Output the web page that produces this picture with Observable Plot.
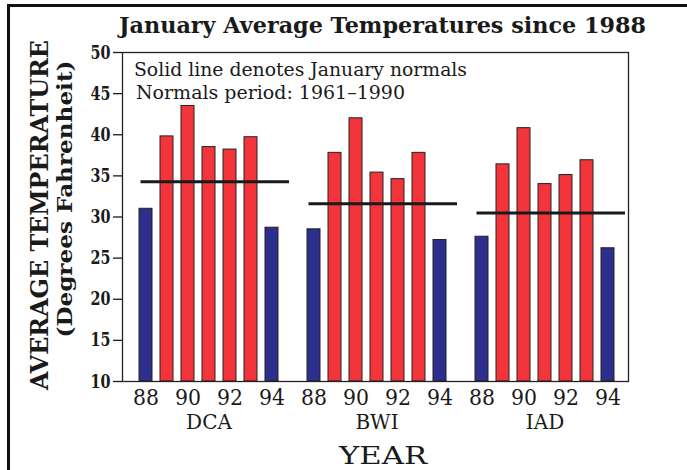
<!DOCTYPE html>
<html>
<head>
<meta charset="utf-8">
<script src="https://cdn.jsdelivr.net/npm/d3@7"></script>
<script src="https://cdn.jsdelivr.net/npm/@observablehq/plot@0.6"></script>
<style>
  body { margin: 0; background: #fff; }
  #chart { position: relative; width: 687px; height: 470px; overflow: hidden; background: #fff; }
</style>
</head>
<body>
<div id="chart"></div>
<script>
// ---- data ----
const stations = ["DCA", "BWI", "IAD"];
const years = [88, 89, 90, 91, 92, 93, 94];
const tickYears = [88, 90, 92, 94];
const dcaTemps = [31.0, 39.8, 43.5, 38.5, 38.2, 39.7, 28.7];
const bwiTemps = [28.5, 37.8, 42.0, 35.4, 34.6, 37.8, 27.2];
const iadTemps = [27.6, 36.4, 40.8, 34.0, 35.1, 36.9, 26.2];
const normals = [34.3, 31.6, 30.5];
const yDomain = [10, 50];
const yTicks = [10, 15, 20, 25, 30, 35, 40, 45, 50];
const titleText = "January Average Temperatures since 1988";
const noteLines = ["Solid line denotes January normals", "Normals period: 1961\u20131990"];
const yLabelLines = ["AVERAGE TEMPERATURE", "(Degrees Fahrenheit)"];
const xLabelText = "YEAR";

// ---- styles ----
const RED = "#f3343b";
const BLUE = "#2d2f8c";
const INK = "#1a1a1a";
const FONT = "'DejaVu Serif', serif";

// ---- build tables ----
const series = {DCA: dcaTemps, BWI: bwiTemps, IAD: iadTemps};
const key = (s, y) => `${s} ${y}`;
const xDomain = stations.flatMap((s, i) => [
  ...years.map(y => key(s, y)),
  ...(i < stations.length - 1 ? [`${s} gap`] : [])
]);
const rows = stations.flatMap((s, i) => years.map((y, j) => ({
  station: s, year: y, key: key(s, y), temp: series[s][j], normal: normals[i]
})));
const normalRows = stations.map((s, i) => ({
  station: s, normal: normals[i],
  first: key(s, years[0]), last: key(s, years[years.length - 1])
}));
const midYear = years[Math.floor(years.length / 2)];
const xTickKeys = stations.flatMap(s => tickYears.map(y => key(s, y)));

const chart = Plot.plot({
  width: 687,
  height: 470,
  marginLeft: 122,
  marginRight: 59,
  marginTop: 52,
  marginBottom: 89,
  style: {fontFamily: FONT, fontSize: "22px", color: INK, background: "transparent", overflow: "visible"},
  x: {
    type: "band",
    domain: xDomain,
    paddingInner: 0.37,
    paddingOuter: 0.54,
    align: 0.55,
    ticks: xTickKeys,
    tickFormat: k => k.split(" ")[1],
    tickSize: 0,
    tickPadding: 8,
    label: null
  },
  y: {
    domain: yDomain,
    ticks: yTicks,
    tickSize: 9,
    tickPadding: 3,
    label: null
  },
  marks: [
    Plot.barY(rows, {
      x: "key",
      y1: yDomain[0],
      y2: "temp",
      fill: d => d.temp < d.normal ? BLUE : RED,
      stroke: "#222",
      strokeWidth: 1
    }),
    Plot.ruleY(normalRows, {
      y: "normal", x1: "first", x2: "last",
      insetLeft: 1.5, insetRight: -11,
      stroke: INK, strokeWidth: 3
    }),
    Plot.text(stations, {
      x: s => key(s, midYear),
      text: d => d,
      frameAnchor: "bottom",
      dy: 47,
      fontSize: 20,
      fill: INK
    }),
    Plot.frame({stroke: "#222", strokeWidth: 1.3})
  ]
});

document.getElementById("chart").appendChild(chart);
const svg = d3.select(chart);

svg.selectAll('g[aria-label="y-axis"], g[aria-label="y-axis tick label"]')
  .style("font-weight", "bold").style("font-size", "19px");
svg.selectAll('g[aria-label="y-axis"] text, g[aria-label="y-axis tick label"] text')
  .attr("textLength", 20).attr("lengthAdjust", "spacingAndGlyphs");
svg.selectAll('g[aria-label="x-axis"], g[aria-label="x-axis tick label"]')
  .style("font-size", "22px");
svg.selectAll('g[aria-label="x-axis"] text, g[aria-label="x-axis tick label"] text')
  .attr("textLength", 26).attr("lengthAdjust", "spacingAndGlyphs");
svg.selectAll('g[aria-label="y-axis"], g[aria-label="y-axis tick"]')
  .style("stroke-width", "1.3");

// outer border of the figure
svg.append("path")
  .attr("d", "M8.5,470 V5.5 H687")
  .attr("fill", "none").attr("stroke", "#111").attr("stroke-width", 3);

const addText = (t, x, y, size, weight, len, anchor, transform) => {
  const el = svg.append("text")
    .attr("font-family", FONT).attr("font-size", size).attr("font-weight", weight)
    .attr("fill", INK).attr("text-anchor", anchor)
    .text(t);
  if (transform) el.attr("transform", transform);
  else el.attr("x", x).attr("y", y);
  if (len) el.attr("textLength", len).attr("lengthAdjust", "spacingAndGlyphs");
  return el;
};

// title
addText(titleText, 382.5, 33, 23, "bold", 527, "middle");
// notes
addText(noteLines[0], 134, 76, 18, "normal", 333, "start");
addText(noteLines[1], 136, 99, 18, "normal", 269, "start");
// y label (two rotated lines)
addText(yLabelLines[0], 0, 0, 24, "bold", 350, "middle", "translate(48,215) rotate(-90)");
addText(yLabelLines[1], 0, 0, 20, "bold", 277, "middle", "translate(72,199) rotate(-90)");
// x label
addText(xLabelText, 383, 464, 24, "normal", 88, "middle");
</script>
</body>
</html>
